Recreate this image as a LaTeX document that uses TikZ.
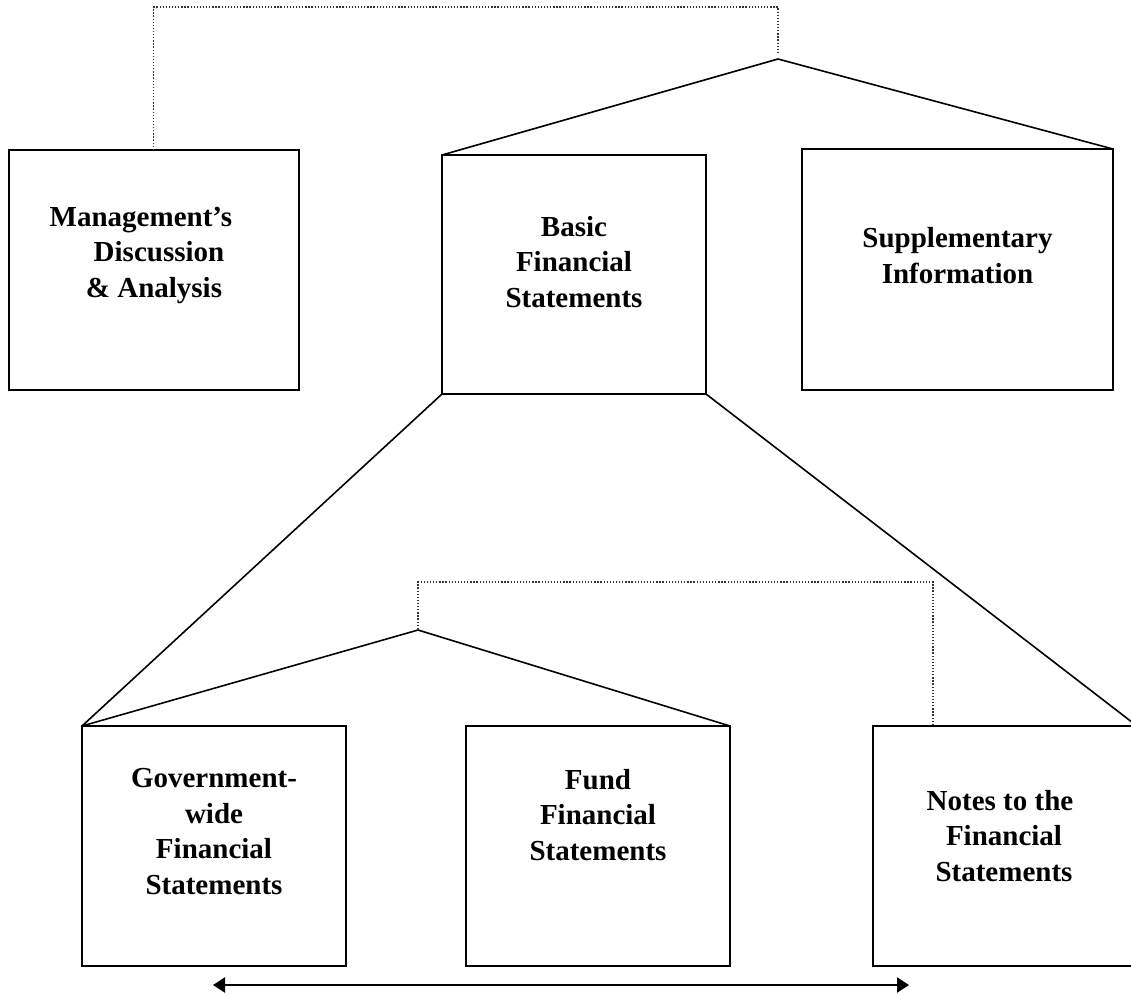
\documentclass[tikz,border=0pt]{standalone}
\usepackage{fontspec}
\setmainfont{Liberation Serif}
\usetikzlibrary{arrows.meta}
\begin{document}
\begin{tikzpicture}[x=1pt,y=-1pt,
  box/.style={draw,line width=2.2pt,inner sep=0pt,outer sep=0pt,anchor=north west},
  lbl/.style={align=center,anchor=base,inner sep=0pt,font=\bfseries\fontsize{29}{35.5}\selectfont},
  conn/.style={line width=1.6pt},
  dots/.style={line width=1.3pt,black!80,dash pattern=on 1.3pt off 1.8pt},
  both/.style={line width=2.2pt,{Triangle[length=12pt,width=15pt]}-{Triangle[length=12pt,width=15pt]}}]
\useasboundingbox (0,0) rectangle (1131,994);
% boxes
\node[box,minimum width=290pt,minimum height=240pt] (mda) at (9,150) {};
\node[box,minimum width=264pt,minimum height=239pt] (basic) at (442,155) {};
\node[box,minimum width=311pt,minimum height=241pt] (supp) at (802,149) {};
\node[box,minimum width=264pt,minimum height=240pt] (gov) at (82,726) {};
\node[box,minimum width=264pt,minimum height=240pt] (fund) at (466,726) {};
\node[box,minimum width=264pt,minimum height=240pt] (notes) at (873,726) {};
% labels (anchor = baseline of the last line)
\node[lbl] (mdaT) at (154,297) {Management's\hspace*{26pt}\\\hspace*{10pt}Discussion\\\& Analysis};
\node[lbl] (basicT) at (574,307) {Basic\\Financial\\Statements};
\node[lbl] (suppT) at (957.5,283) {Supplementary\\Information};
\node[lbl] (govT) at (214,894) {Government-\\wide\\Financial\\Statements};
\node[lbl] (fundT) at (598,860) {Fund\\Financial\\Statements};
\node[lbl] (notesT) at (1004,881) {Notes to the\hspace*{8pt}\\Financial\\Statements};
% apexes
\coordinate (a1) at (778,59);
\coordinate (a2) at (418,630);
\coordinate (d1) at (778,52);
\coordinate (d2) at (418,629);
\coordinate (m1) at (153.7,150);
\coordinate (n1) at (933,726);
% connectors
\draw[conn] (basic.north west) -- (a1) -- (supp.north east);
\draw[conn] (basic.south west) -- (gov.north west);
\draw[conn] (basic.south east) -- (notes.north east);
\draw[conn] (gov.north west) -- (a2) -- (fund.north east);
% dotted
\draw[dots] (m1) |- (778,7) -- (d1);
\draw[dots] (d2) |- (933,582) -- (n1);
% arrow
\coordinate (arL) at (213,985);
\coordinate (arR) at (909,985);
\draw[both] (arL) -- (arR);
\end{tikzpicture}
\end{document}
